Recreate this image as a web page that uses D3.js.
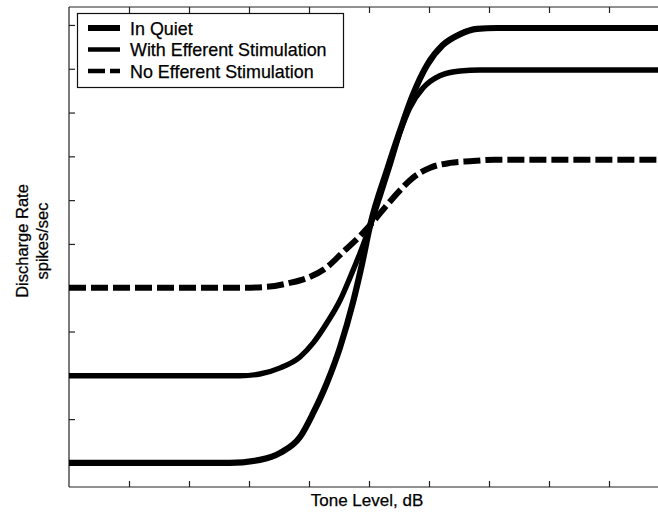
<!DOCTYPE html>
<html>
<head>
<meta charset="utf-8">
<script src="https://cdn.jsdelivr.net/npm/d3@7"></script>
<style>
  html, body { margin: 0; padding: 0; background: #fff; }
  svg { display: block; }
  text { font-family: "Liberation Sans", Arial, sans-serif; fill: #000; stroke: #000; stroke-width: 0.25px; }
</style>
</head>
<body>
<svg id="chart" width="658" height="520"></svg>
<script>
// ---- Data ----
const seriesNames = ["In Quiet", "With Efferent Stimulation", "No Efferent Stimulation"];

// Tone level (arbitrary dB units) and discharge rate (arbitrary spikes/sec units)
const quietX = [0, 26.8, 31.8, 35.2, 38.5, 40.7, 43.0, 45.2, 47.3, 48.8, 50.2, 53.0, 55.2, 57.3, 59.7, 62.3, 65.2, 68.0, 71.3, 100];
const quietY = [0, 0, 0.7, 2.3, 5.9, 11.4, 18.3, 26.5, 36.5, 45.2, 54.3, 66.9, 76.0, 84.0, 90.9, 95.4, 97.9, 99.1, 99.3, 99.3];

const withX = [0, 28.5, 31.8, 35.2, 38.5, 40.7, 43.0, 45.2, 46.8, 48.5, 50.2, 51.8, 53.5, 55.2, 56.8, 59.0, 61.8, 65.2, 68.5, 100];
const withY = [19.9, 19.9, 20.3, 21.7, 24.2, 27.4, 32.0, 37.2, 42.2, 47.9, 54.1, 60.7, 68.0, 75.6, 81.1, 85.6, 88.4, 89.5, 89.7, 89.7];

const noX = [0, 28.5, 33.0, 36.8, 40.2, 43.0, 45.7, 48.5, 50.2, 52.7, 55.2, 57.3, 60.2, 63.5, 66.8, 71.0, 100];
const noY = [40.0, 40.0, 40.2, 41.1, 42.5, 44.7, 48.2, 51.8, 54.3, 58.4, 62.3, 65.1, 67.4, 68.5, 68.9, 69.2, 69.2];

const xTicks = [10, 20, 30, 40, 50, 60, 70, 80, 90];
const yTicks = [0, 10, 20, 30, 40, 50, 60, 70, 80, 90, 100];

const xLabel = "Tone Level, dB";
const yLabelLines = ["Discharge Rate", "spikes/sec"];

// ---- Layout ----
const svg = d3.select("#chart");
const mLeft = 69, mRight = 669, mTop = 7, mBottom = 487;

const x = d3.scaleLinear().domain([0, 100]).range([mLeft, mRight]);
const y = d3.scaleLinear().domain([-5.5, 104.1]).range([mBottom, mTop]);

// Axes frame (left, bottom, top; no visible right border)
const axisColor = "#222";
svg.append("line").attr("x1", mLeft).attr("x2", 658).attr("y1", mBottom).attr("y2", mBottom)
  .attr("stroke", axisColor).attr("stroke-width", 1.2);
svg.append("line").attr("x1", mLeft).attr("x2", 658).attr("y1", mTop).attr("y2", mTop)
  .attr("stroke", axisColor).attr("stroke-width", 1.2);
svg.append("line").attr("x1", mLeft).attr("x2", mLeft).attr("y1", mTop).attr("y2", mBottom)
  .attr("stroke", axisColor).attr("stroke-width", 1.2);

// Inward ticks via d3 axes
const bottomAxis = d3.axisTop(x).tickValues(xTicks).tickSize(6).tickFormat("");
const topAxis = d3.axisBottom(x).tickValues(xTicks).tickSize(6).tickFormat("");
const leftAxis = d3.axisRight(y).tickValues(yTicks).tickSize(6).tickFormat("");

function styleAxis(g) {
  g.select(".domain").remove();
  g.selectAll(".tick line").attr("stroke", axisColor).attr("stroke-width", 1.2);
}
svg.append("g").attr("transform", `translate(0,${mBottom})`).call(bottomAxis).call(styleAxis);
svg.append("g").attr("transform", `translate(0,${mTop})`).call(topAxis).call(styleAxis);
svg.append("g").attr("transform", `translate(${mLeft},0)`).call(leftAxis).call(styleAxis);

// Curves
const line = d3.line()
  .x(d => x(d[0]))
  .y(d => y(d[1]))
  .curve(d3.curveMonotoneX);

const zip = (a, b) => a.map((v, i) => [v, b[i]]);

const series = [
  { name: seriesNames[0], pts: zip(quietX, quietY), width: 6.2, dash: null },
  { name: seriesNames[1], pts: zip(withX, withY), width: 5.4, dash: null },
  { name: seriesNames[2], pts: zip(noX, noY), width: 6, dash: "17,5" }
];

svg.append("defs").append("clipPath").attr("id", "clip")
  .append("rect").attr("x", mLeft).attr("y", mTop).attr("width", mRight - mLeft).attr("height", mBottom - mTop);

const plot = svg.append("g").attr("clip-path", "url(#clip)");
series.slice().reverse().forEach(s => {
  plot.append("path")
    .attr("d", line(s.pts))
    .attr("fill", "none")
    .attr("stroke", "#000")
    .attr("stroke-width", s.width)
    .attr("stroke-dasharray", s.dash)
    .attr("stroke-linejoin", "round");
});

// Legend
const lg = svg.append("g");
lg.append("rect").attr("x", 77.5).attr("y", 13.5).attr("width", 266).attr("height", 74)
  .attr("fill", "#fff").attr("stroke", "#111").attr("stroke-width", 1.2);
const legendRows = [28, 49.5, 71];
const legendWidths = [6, 4.5, 4.5];
series.forEach((s, i) => {
  lg.append("line")
    .attr("x1", 88).attr("x2", 120)
    .attr("y1", legendRows[i]).attr("y2", legendRows[i])
    .attr("stroke", "#000").attr("stroke-width", legendWidths[i])
    .attr("stroke-dasharray", s.dash);
  lg.append("text")
    .attr("x", 130).attr("y", legendRows[i] + 6.5)
    .attr("font-size", 17.9)
    .text(s.name);
});

// Axis labels
svg.append("text")
  .attr("x", 367).attr("y", 506)
  .attr("text-anchor", "middle")
  .attr("font-size", 17)
  .text(xLabel);

const yl = svg.append("text")
  .attr("transform", "translate(0,241) rotate(-90)")
  .attr("text-anchor", "middle")
  .attr("font-size", 16.5);
yl.append("tspan").attr("x", 0).attr("y", 28).text(yLabelLines[0]);
yl.append("tspan").attr("x", 0).attr("y", 48).text(yLabelLines[1]);
</script>
</body>
</html>
